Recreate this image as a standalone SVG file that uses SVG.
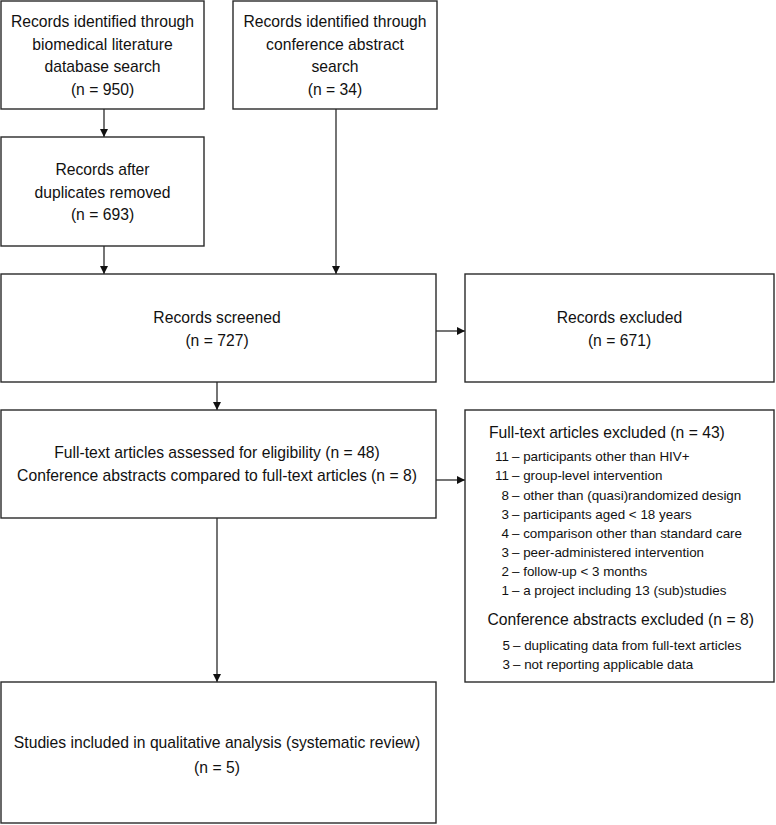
<svg xmlns="http://www.w3.org/2000/svg" width="776" height="825" viewBox="0 0 776 825">
<defs>
<style>
.box{fill:#fff;stroke:#2a2a2a;stroke-width:1.4}
.t{font-family:"Liberation Sans",Arial,sans-serif;font-size:15.7px;fill:#111;text-anchor:middle}
.s{font-family:"Liberation Sans",Arial,sans-serif;font-size:13.4px;fill:#111}
.h{font-family:"Liberation Sans",Arial,sans-serif;font-size:15.7px;fill:#111}
.c{stroke:#2a2a2a;stroke-width:1.3;fill:none;marker-end:url(#ah)}
</style>
<marker id="ah" viewBox="0 0 10 10" refX="10" refY="5" markerWidth="8" markerHeight="8" markerUnits="userSpaceOnUse" orient="auto">
<path d="M0,0 L10,5 L0,10 Z" fill="#111"/>
</marker>
</defs>
<rect width="776" height="825" fill="#fff"/>
<g id="connectors">
<line class="c" x1="104" y1="109" x2="104" y2="137"/>
<line class="c" x1="336" y1="109" x2="336" y2="274"/>
<line class="c" x1="104" y1="246" x2="104" y2="274"/>
<line class="c" x1="436" y1="331" x2="465" y2="331"/>
<line class="c" x1="217" y1="382" x2="217" y2="410"/>
<line class="c" x1="436" y1="480" x2="465" y2="480"/>
<line class="c" x1="217" y1="518" x2="217" y2="682"/>
</g>
<g id="n1">
<rect class="box" x="1" y="1" width="203" height="108"/>
<text class="t" x="102.5" y="27">Records identified through</text>
<text class="t" x="102.5" y="50">biomedical literature</text>
<text class="t" x="102.5" y="72">database search</text>
<text class="t" x="102.5" y="94.5">(n = 950)</text>
</g>
<g id="n2">
<rect class="box" x="233" y="1" width="204" height="108"/>
<text class="t" x="335" y="27">Records identified through</text>
<text class="t" x="335" y="50">conference abstract</text>
<text class="t" x="335" y="72">search</text>
<text class="t" x="335" y="94.5">(n = 34)</text>
</g>
<g id="n3">
<rect class="box" x="1" y="137" width="203" height="109"/>
<text class="t" x="102.5" y="175">Records after</text>
<text class="t" x="102.5" y="198">duplicates removed</text>
<text class="t" x="102.5" y="220">(n = 693)</text>
</g>
<g id="n4">
<rect class="box" x="1" y="274" width="435" height="108"/>
<text class="t" x="217" y="323">Records screened</text>
<text class="t" x="217" y="345.5">(n = 727)</text>
</g>
<g id="n5">
<rect class="box" x="465" y="274" width="309" height="108"/>
<text class="t" x="619.5" y="322.5">Records excluded</text>
<text class="t" x="619.5" y="345.5">(n = 671)</text>
</g>
<g id="n6">
<rect class="box" x="1" y="410" width="435" height="108"/>
<text class="t" x="217" y="458">Full-text articles assessed for eligibility (n = 48)</text>
<text class="t" x="217" y="481">Conference abstracts compared to full-text articles (n = 8)</text>
</g>
<g id="n7">
<rect class="box" x="465" y="410" width="309" height="272"/>
<text class="h" x="489" y="437.5">Full-text articles excluded (n = 43)</text>
<text class="s"><tspan x="509" y="461" text-anchor="end">11</tspan><tspan x="512" y="461">– participants other than HIV+</tspan></text>
<text class="s"><tspan x="509" y="480.3" text-anchor="end">11</tspan><tspan x="512" y="480.3">– group-level intervention</tspan></text>
<text class="s"><tspan x="509" y="499.6" text-anchor="end">8</tspan><tspan x="512" y="499.6">– other than (quasi)randomized design</tspan></text>
<text class="s"><tspan x="509" y="518.8" text-anchor="end">3</tspan><tspan x="512" y="518.8">– participants aged &lt; 18 years</tspan></text>
<text class="s"><tspan x="509" y="538" text-anchor="end">4</tspan><tspan x="512" y="538">– comparison other than standard care</tspan></text>
<text class="s"><tspan x="509" y="557" text-anchor="end">3</tspan><tspan x="512" y="557">– peer-administered intervention</tspan></text>
<text class="s"><tspan x="509" y="576" text-anchor="end">2</tspan><tspan x="512" y="576">– follow-up &lt; 3 months</tspan></text>
<text class="s"><tspan x="509" y="595.2" text-anchor="end">1</tspan><tspan x="512" y="595.2">– a project including 13 (sub)studies</tspan></text>
<text class="h" x="487.5" y="625">Conference abstracts excluded (n = 8)</text>
<text class="s"><tspan x="510" y="649.5" text-anchor="end">5</tspan><tspan x="513" y="649.5">– duplicating data from full-text articles</tspan></text>
<text class="s"><tspan x="510" y="668.5" text-anchor="end">3</tspan><tspan x="513" y="668.5">– not reporting applicable data</tspan></text>
</g>
<g id="n8">
<rect class="box" x="1" y="682" width="435" height="141"/>
<text class="t" x="217" y="748">Studies included in qualitative analysis (systematic review)</text>
<text class="t" x="217" y="772.5">(n = 5)</text>
</g>
</svg>
